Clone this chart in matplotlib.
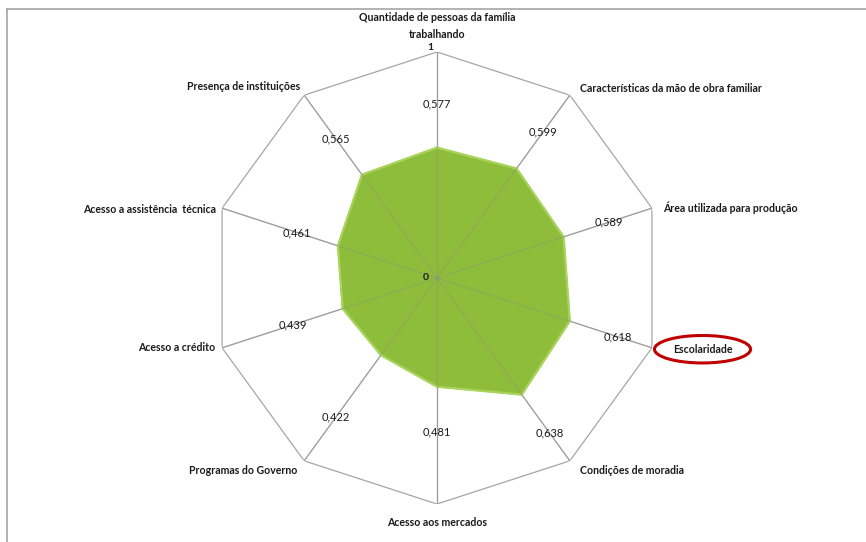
import numpy as np
import matplotlib
matplotlib.use("Agg")
import matplotlib.pyplot as plt
from matplotlib.lines import Line2D

# Data
categories = [
    "Quantidade de pessoas da família\ntrabalhando",
    "Características da mão de obra familiar",
    "Área utilizada para produção",
    "Escolaridade",
    "Condições de moradia",
    "Acesso aos mercados",
    "Programas do Governo",
    "Acesso a crédito",
    "Acesso a assistência  técnica",
    "Presença de instituições",
]
values = [0.577, 0.599, 0.589, 0.618, 0.638, 0.481, 0.422, 0.439, 0.461, 0.565]
value_labels = ["0,577", "0,599", "0,589", "0,618", "0,638",
                "0,481", "0,422", "0,439", "0,461", "0,565"]

# where the value labels sit along each spoke (fraction of radius)
label_r = [0.77, 0.80, 0.80, 0.84, 0.85, 0.68, 0.76, 0.67, 0.65, 0.76]
# category label offsets (points) and alignment
cat_pos = [
    (0, 9, "center", "bottom"),
    (7, 5, "left", "center"),
    (8, 0, "left", "center"),
    (15, -1, "left", "center"),
    (7, -7, "left", "center"),
    (0, -9, "center", "top"),
    (-5, -7, "right", "center"),
    (-5, 0, "right", "center"),
    (-4, -1, "right", "center"),
    (-3, 6, "right", "center"),
]

plt.rcParams["font.family"] = ["Lato", "DejaVu Sans"]

fig = plt.figure(figsize=(8.66, 5.42), dpi=100)

# outer frame lines (top and left only visible)
fig.add_artist(Line2D([7 / 866, 1], [1 - 9 / 542, 1 - 9 / 542], color="#A6A6A6", lw=1.2,
                      transform=fig.transFigure))
fig.add_artist(Line2D([7 / 866, 7 / 866], [0, 1 - 9 / 542], color="#A6A6A6", lw=1.2,
                      transform=fig.transFigure))

cx, cy, R = 437, 542 - 278, 226
ax = fig.add_axes([(cx - R) / 866, (cy - R) / 542, 2 * R / 866, 2 * R / 542],
                  projection="polar")
ax.set_theta_zero_location("N")
ax.set_theta_direction(-1)
ax.set_ylim(0, 1)
ax.grid(False)
ax.spines["polar"].set_visible(False)
ax.set_xticks([])
ax.set_yticks([])
ax.patch.set_alpha(0)

n = len(categories)
angles = np.linspace(0, 2 * np.pi, n, endpoint=False)
ang_closed = np.append(angles, angles[0])

# filled series
vals_closed = np.append(values, values[0])
ax.fill(ang_closed, vals_closed, color="#8EBD3B", zorder=2)
ax.plot(ang_closed, vals_closed, color="#A9D45C", lw=1.6, zorder=3)

# outer polygon grid and spokes
ax.plot(ang_closed, np.ones(n + 1), color="#A6A6A6", lw=0.9, zorder=1)
for a in angles:
    ax.plot([a, a], [0, 1], color="#A6A6A6", lw=0.9, zorder=1)
    ax.plot([a, a], [0, 1], color="#8A8A8A", lw=0.9, zorder=4, alpha=0.35)

# axis tick labels
ax.annotate("1", (0, 1), xytext=(-5, 0), textcoords="offset points",
            ha="center", va="bottom", fontsize=7.5, fontweight="bold", color="#1a1a1a")
ax.annotate("0", (0, 0), xytext=(-8, 0), textcoords="offset points",
            ha="center", va="center", fontsize=7.5, fontweight="bold", color="#1a1a1a",
            zorder=6)

# value labels
for a, lr, txt in zip(angles, label_r, value_labels):
    ax.text(a, lr, txt, ha="center", va="center", fontsize=8, color="#1a1a1a", zorder=6)

# category labels
for i, (a, cat) in enumerate(zip(angles, categories)):
    dx, dy, ha, va = cat_pos[i]
    kw = {}
    if cat == "Escolaridade":
        kw["bbox"] = dict(boxstyle="ellipse,pad=0.4", fc="none", ec="#C00000", lw=2.2)
    ax.annotate(cat, (a, 1), xytext=(dx, dy), textcoords="offset points",
                ha=ha, va=va, fontsize=7.6, fontweight="bold", color="#1a1a1a",
                linespacing=1.6, annotation_clip=False, **kw)

fig.savefig("out.png", dpi=100)
